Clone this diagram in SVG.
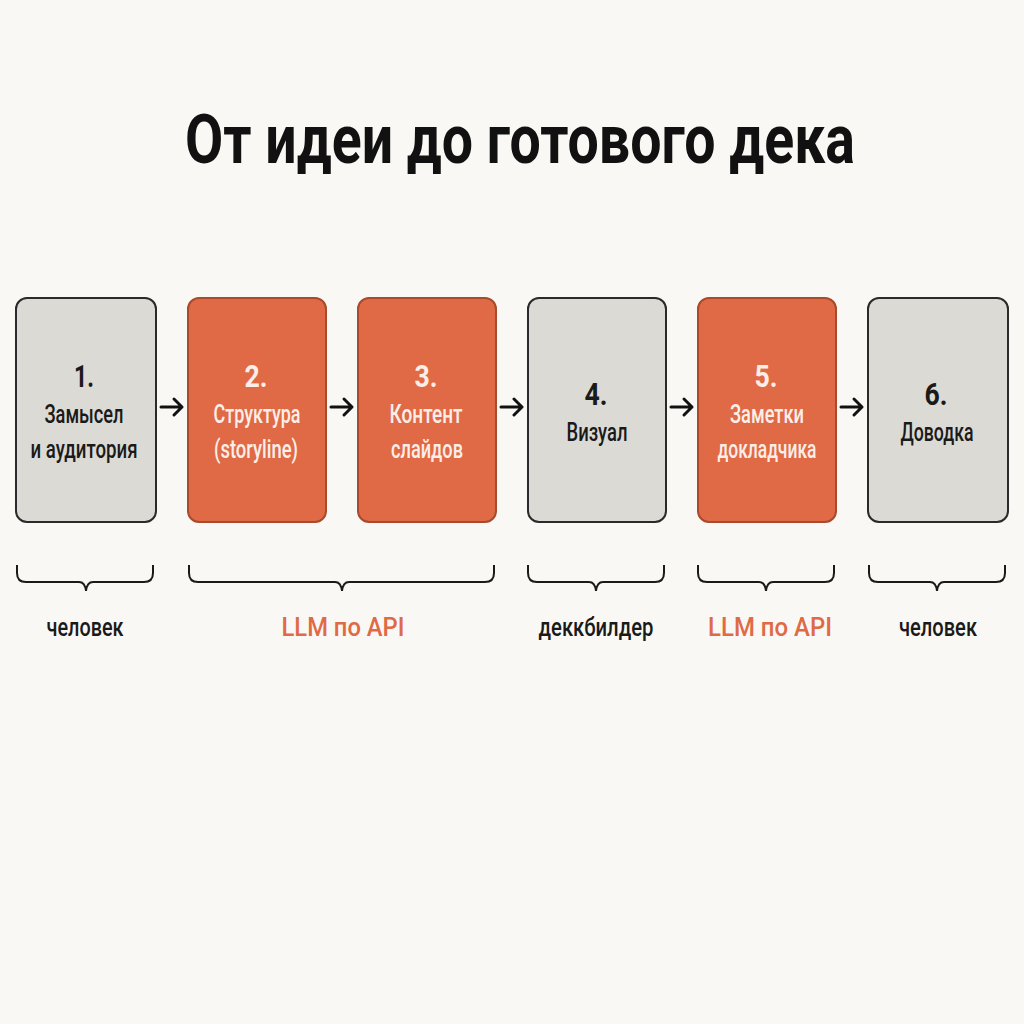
<svg xmlns="http://www.w3.org/2000/svg" width="1024" height="1024" viewBox="0 0 1024 1024">
<style>
.bg{fill:#faf8f4}
.gray{fill:#dcdad4;stroke:#2a2a2a;stroke-width:2}
.orange{fill:#e06a45;stroke:#a84a2c;stroke-width:2}
text{font-family:Roboto,"Liberation Sans","DejaVu Sans",sans-serif;text-anchor:middle}
.title{font-size:68px;font-weight:bold;fill:#111}
.num{font-size:31px;font-weight:bold}
.lbl{font-size:25px;font-weight:500}
.dk{fill:#1a1a1a}
.wt{fill:#fbeee8}
.foot{font-size:26px;font-weight:500}
.or{fill:#df6a45}
.conn{fill:none;stroke:#111;stroke-width:3;stroke-linecap:round;stroke-linejoin:round}
.brace{fill:none;stroke:#1a1a1a;stroke-width:2}
</style>
<rect class="bg" x="0" y="0" width="1024" height="1024"/>
<text class="title" x="520" y="163" textLength="670" lengthAdjust="spacingAndGlyphs">От идеи до готового дека</text>

<g id="node1">
<rect class="gray" x="16" y="298" width="140" height="224" rx="11"/>
<text class="num dk" x="84" y="387" textLength="20" lengthAdjust="spacingAndGlyphs">1.</text>
<text class="lbl dk" x="84" y="423" textLength="79" lengthAdjust="spacingAndGlyphs">Замысел</text>
<text class="lbl dk" x="84" y="458" textLength="107" lengthAdjust="spacingAndGlyphs">и аудитория</text>
</g>
<g id="node2">
<rect class="orange" x="188" y="298" width="138" height="224" rx="11"/>
<text class="num wt" x="256" y="387" textLength="23" lengthAdjust="spacingAndGlyphs">2.</text>
<text class="lbl wt" x="257" y="423" textLength="87" lengthAdjust="spacingAndGlyphs">Структура</text>
<text class="lbl wt" x="256" y="458" textLength="84" lengthAdjust="spacingAndGlyphs">(storyline)</text>
</g>
<g id="node3">
<rect class="orange" x="358" y="298" width="138" height="224" rx="11"/>
<text class="num wt" x="426" y="387" textLength="23" lengthAdjust="spacingAndGlyphs">3.</text>
<text class="lbl wt" x="426" y="423" textLength="73" lengthAdjust="spacingAndGlyphs">Контент</text>
<text class="lbl wt" x="427" y="458" textLength="72" lengthAdjust="spacingAndGlyphs">слайдов</text>
</g>
<g id="node4">
<rect class="gray" x="528" y="298" width="138" height="224" rx="11"/>
<text class="num dk" x="596" y="405" textLength="23" lengthAdjust="spacingAndGlyphs">4.</text>
<text class="lbl dk" x="597" y="441" textLength="61" lengthAdjust="spacingAndGlyphs">Визуал</text>
</g>
<g id="node5">
<rect class="orange" x="698" y="298" width="138" height="224" rx="11"/>
<text class="num wt" x="766" y="387" textLength="23" lengthAdjust="spacingAndGlyphs">5.</text>
<text class="lbl wt" x="767" y="423" textLength="74" lengthAdjust="spacingAndGlyphs">Заметки</text>
<text class="lbl wt" x="767" y="458" textLength="99" lengthAdjust="spacingAndGlyphs">докладчика</text>
</g>
<g id="node6">
<rect class="gray" x="868" y="298" width="140" height="224" rx="11"/>
<text class="num dk" x="936" y="405" textLength="23" lengthAdjust="spacingAndGlyphs">6.</text>
<text class="lbl dk" x="937" y="441" textLength="73" lengthAdjust="spacingAndGlyphs">Доводка</text>
</g>

<g id="connectors">
<path class="conn" d="M161 407 H182 M174 399 L182 407 L174 415"/>
<path class="conn" d="M331 407 H352 M344 399 L352 407 L344 415"/>
<path class="conn" d="M501 407 H522 M514 399 L522 407 L514 415"/>
<path class="conn" d="M671 407 H692 M684 399 L692 407 L684 415"/>
<path class="conn" d="M841 407 H862 M854 399 L862 407 L854 415"/>
</g>

<g id="braces">
<path class="brace" d="M17 565 V573 Q17 582 26 582 H79 Q85 582 86 591 Q87 582 93 582 H144 Q153 582 153 573 V565"/>
<path class="brace" d="M189 565 V573 Q189 582 198 582 H335 Q341 582 342 591 Q343 582 349 582 H485 Q494 582 494 573 V565"/>
<path class="brace" d="M528 565 V573 Q528 582 537 582 H589 Q595 582 596 591 Q597 582 603 582 H655 Q664 582 664 573 V565"/>
<path class="brace" d="M698 565 V573 Q698 582 707 582 H759 Q765 582 766 591 Q767 582 773 582 H825 Q834 582 834 573 V565"/>
<path class="brace" d="M869 565 V573 Q869 582 878 582 H930 Q936 582 937 591 Q938 582 944 582 H996 Q1005 582 1005 573 V565"/>
</g>

<g id="labels">
<text class="foot dk" x="85" y="636" textLength="77" lengthAdjust="spacingAndGlyphs">человек</text>
<text class="foot or" x="343" y="636" textLength="123" lengthAdjust="spacingAndGlyphs">LLM по API</text>
<text class="foot dk" x="596" y="636" textLength="115" lengthAdjust="spacingAndGlyphs">деккбилдер</text>
<text class="foot or" x="770" y="636" textLength="124" lengthAdjust="spacingAndGlyphs">LLM по API</text>
<text class="foot dk" x="938" y="636" textLength="78" lengthAdjust="spacingAndGlyphs">человек</text>
</g>
</svg>
